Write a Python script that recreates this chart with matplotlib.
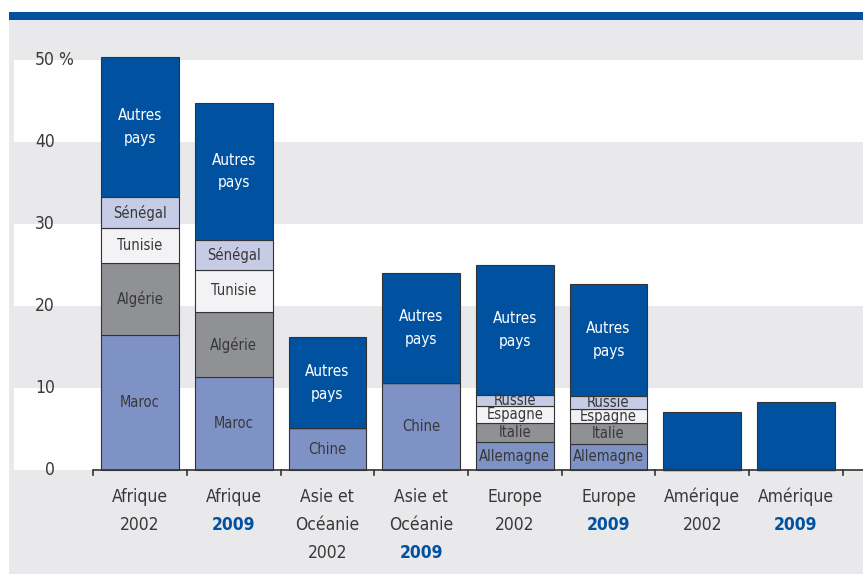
import numpy as np
import matplotlib
matplotlib.use('Agg')
import matplotlib.pyplot as plt
from matplotlib import font_manager
from matplotlib.patches import Rectangle

# data
regions = ['Afrique', 'Afrique', 'Asie et\nOcéanie', 'Asie et\nOcéanie',
           'Europe', 'Europe', 'Amérique', 'Amérique']
years = ['2002', '2009', '2002', '2009', '2002', '2009', '2002', '2009']

# stacked layers, bottom to top
layer_vals = [
    [16.5, 11.3, 5.1, 10.6, 3.4, 3.2, 0, 0],
    [8.7, 8.0, 0, 0, 2.3, 2.5, 0, 0],
    [4.3, 5.1, 0, 0, 2.1, 1.7, 0, 0],
    [3.8, 3.6, 0, 0, 1.3, 1.6, 0, 0],
    [17.1, 16.8, 11.1, 13.4, 15.9, 13.7, 7.1, 8.3],
]
layer_labels = [
    ['Maroc', 'Maroc', 'Chine', 'Chine', 'Allemagne', 'Allemagne', '', ''],
    ['Algérie', 'Algérie', '', '', 'Italie', 'Italie', '', ''],
    ['Tunisie', 'Tunisie', '', '', 'Espagne', 'Espagne', '', ''],
    ['Sénégal', 'Sénégal', '', '', 'Russie', 'Russie', '', ''],
    ['Autres\npays'] * 6 + ['', ''],
]
layer_colors = ['#7f92c6', '#909195', '#f3f3f5', '#c6cbe6', '#0052a0']
text_colors = ['#383838'] * 4 + ['white']

yticks = [0, 10, 20, 30, 40, 50]

# font
cands = ['Liberation Sans Narrow', 'DejaVu Sans']
avail = set(f.name for f in font_manager.fontManager.ttflist)
fam = [c for c in cands if c in avail][0]
plt.rcParams['font.family'] = fam
if fam == 'DejaVu Sans':
    plt.rcParams['font.stretch'] = 'condensed'

W, H = 863, 574
fig = plt.figure(figsize=(W / 100, H / 100), dpi=100)
fig.patch.set_facecolor('white')

# background panel + top blue rule
fig.patches.append(Rectangle((9 / W, 0), 1, (H - 20) / H, transform=fig.transFigure,
                             facecolor='#e9e9ec', edgecolor='none', zorder=-10))
fig.patches.append(Rectangle((9 / W, (H - 20) / H), 1, 8 / H, transform=fig.transFigure,
                             facecolor='#0052a0', edgecolor='none', zorder=-10))

# axes positioned in pixel terms
ax = fig.add_axes([14 / W, 0, (W - 14) / W, (H - 20) / H])
ax.set_zorder(1)
ax.set_facecolor('none')
px = 8.2  # pixels per unit
step = 93.7
x0 = 140
ax.set_xlim((14 - x0) / step, (W - x0) / step)
ax.set_ylim(-(H - 470) / px, (470 - 20) / px)
for s in ax.spines.values():
    s.set_visible(False)
ax.set_xticks([])
ax.set_yticks([])

# white bands
for lo in [0, 20, 40]:
    ax.axhspan(lo, lo + 10, color='white', zorder=0, lw=0)

x = np.arange(len(years))
bottom = np.zeros(len(years))
for vals, labs, col, tcol in zip(layer_vals, layer_labels, layer_colors, text_colors):
    vals = np.array(vals, dtype=float)
    ax.bar(x, vals, width=0.83, bottom=bottom, color=col, edgecolor='#333333',
           linewidth=0.8, zorder=2)
    for xi, v, b, lab in zip(x, vals, bottom, labs):
        if v > 0 and lab:
            ax.text(xi, b + v / 2, lab, ha='center', va='center', color=tcol,
                    fontsize=11 if tcol == 'white' else 10.5, zorder=3,
                    linespacing=1.65)
    bottom += vals

# x axis line + ticks
xl = ax.get_xlim()
ax.plot([-0.5, xl[1]], [0, 0], color='#333333', lw=1.2, zorder=4, solid_capstyle='butt')
for b in np.arange(-0.5, len(years) - 0.4, 1):
    ax.plot([b, b], [0, -0.6], color='#333333', lw=1.2, zorder=4)

# y labels
for t in yticks:
    ax.text((55 - x0) / step, t, str(t), ha='right', va='center', fontsize=12.5, color='#383838')
ax.text((58 - x0) / step, 50, '%', ha='left', va='center', fontsize=12.5, color='#383838')

# x labels
lh = 28 / px
for xi, reg, yr in zip(x, regions, years):
    lines = reg.split('\n')
    y = -27 / px
    for ln in lines:
        ax.text(xi, y, ln, ha='center', va='center', fontsize=12.5, color='#383838')
        y -= lh
    if yr == '2009':
        ax.text(xi, y, yr, ha='center', va='center', fontsize=12.5, color='#0052a0',
                fontweight='bold')
    else:
        ax.text(xi, y, yr, ha='center', va='center', fontsize=12.5, color='#383838')

fig.savefig('out.png', dpi=100)
